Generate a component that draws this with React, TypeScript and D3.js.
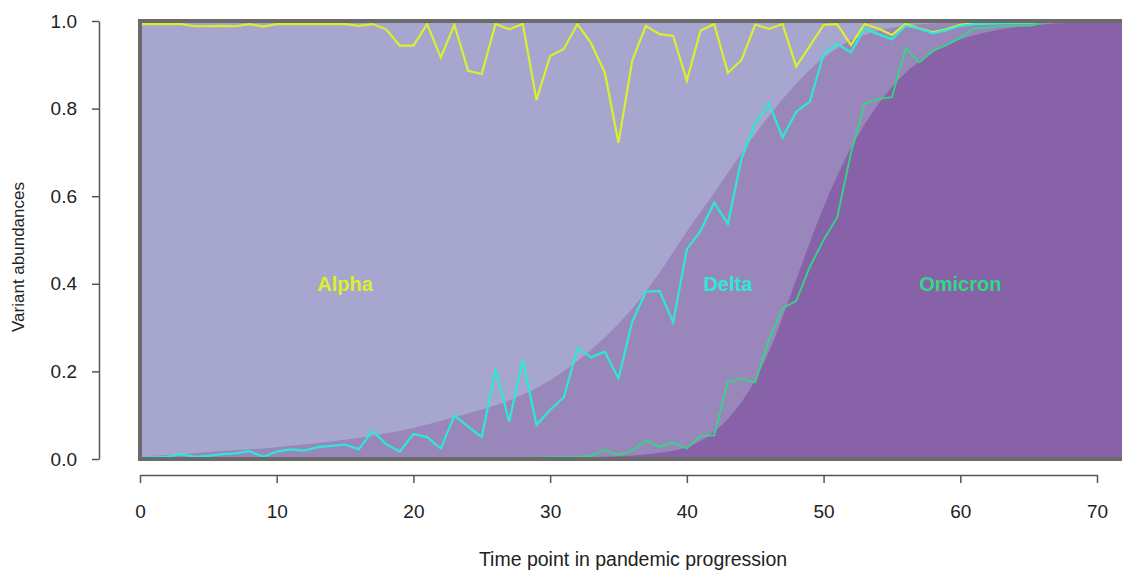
import React, { useEffect, useRef } from 'react'
import * as d3 from 'd3'

// observed abundances at time points 0..66
const alphaObs = [
  0.993, 0.993, 0.993, 0.993, 0.988, 0.988, 0.989, 0.988, 0.993, 0.987,
  0.993, 0.993, 0.993, 0.993, 0.993, 0.993, 0.989, 0.993, 0.981, 0.944,
  0.944, 0.993, 0.917, 0.991, 0.886, 0.879, 0.993, 0.981, 0.993, 0.82,
  0.92, 0.936, 0.993, 0.949, 0.882, 0.722, 0.909, 0.989, 0.97, 0.966,
  0.864, 0.978, 0.993, 0.882, 0.911, 0.992, 0.982, 0.993, 0.896, 0.943,
  0.991, 0.993, 0.945, 0.993, 0.983, 0.968, 0.993, 0.983, 0.974, 0.981,
  0.991, 0.995, 0.995, 0.996, 0.997, 0.997, 0.998,
]
const deltaObs = [
  0.004, 0.004, 0.005, 0.011, 0.005, 0.007, 0.011, 0.013, 0.018, 0.005,
  0.017, 0.022, 0.019, 0.027, 0.03, 0.033, 0.022, 0.064, 0.034, 0.017,
  0.057, 0.05, 0.024, 0.099, 0.074, 0.05, 0.205, 0.085, 0.226, 0.078,
  0.112, 0.141, 0.253, 0.232, 0.245, 0.184, 0.313, 0.382, 0.384, 0.312,
  0.479, 0.521, 0.585, 0.537, 0.686, 0.766, 0.812, 0.734, 0.793, 0.816,
  0.924, 0.948, 0.928, 0.983, 0.97, 0.958, 0.989, 0.983, 0.972, 0.979,
  0.989, 0.993, 0.994, 0.995, 0.996, 0.997, 0.998,
]
const omicronObs = [
  0, 0, 0, 0, 0, 0, 0, 0, 0.001, 0,
  0.001, 0, 0.001, 0.001, 0.001, 0.001, 0.001, 0.001, 0.001, 0.002,
  0.001, 0.002, 0.002, 0.002, 0.002, 0.002, 0.003, 0.002, 0.003, 0.003,
  0.004, 0.004, 0.004, 0.007, 0.021, 0.009, 0.019, 0.042, 0.028, 0.037,
  0.024, 0.053, 0.054, 0.177, 0.183, 0.175, 0.272, 0.344, 0.361, 0.439,
  0.5, 0.552, 0.698, 0.812, 0.822, 0.826, 0.938, 0.905, 0.932, 0.945,
  0.962, 0.983, 0.985, 0.989, 0.99, 0.989, 0.995,
]
const obsTimes = alphaObs.map((_, i) => i)

// fitted (smooth) cumulative curves
const fitTimes = [
  0, 2, 4, 6, 8, 10, 12, 14, 16, 18, 20, 22, 24, 26, 28, 30, 32, 34, 36,
  38, 40, 42, 44, 46, 48, 50, 52, 54, 56, 58, 60, 62, 64, 66, 68, 70, 72,
]
const deltaFit = [
  0.005, 0.009, 0.013, 0.018, 0.022, 0.027, 0.033, 0.04, 0.048, 0.058,
  0.071, 0.087, 0.104, 0.123, 0.147, 0.18, 0.224, 0.278, 0.343, 0.425,
  0.52, 0.608, 0.698, 0.783, 0.857, 0.916, 0.956, 0.978, 0.989, 0.995,
  0.997, 0.998, 0.999, 1, 1, 1, 1,
]
const omicronFit = [
  0, 0, 0, 0, 0, 0, 0, 0, 0, 0.001,
  0.001, 0.001, 0.001, 0.002, 0.002, 0.003, 0.004, 0.005, 0.008, 0.014,
  0.027, 0.062, 0.13, 0.245, 0.41, 0.575, 0.71, 0.81, 0.882, 0.928,
  0.958, 0.975, 0.986, 0.992, 0.996, 0.998, 0.999,
]

const xTicks = [0, 10, 20, 30, 40, 50, 60, 70]
const yTicks = [0, 0.2, 0.4, 0.6, 0.8, 1.0]
const variantNames = ['Alpha', 'Delta', 'Omicron']
const labelTimes = [15, 43, 60]
const labelLevel = 0.4

const W = 1122
const H = 571
const font = "'Liberation Sans', Arial, sans-serif"
const colors = { alpha: '#dbf02c', delta: '#2ee8d6', omicron: '#30d884' }
const fills = { alpha: '#a6a6ce', delta: '#9987bc', omicron: '#8862a8' }

export default function App() {
  const xAxisRef = useRef(null)
  const yAxisRef = useRef(null)

  const x = d3.scaleLinear().domain([0, 70]).range([140, 1097])
  const y = d3.scaleLinear().domain([0, 1]).range([459, 21])

  useEffect(() => {
    const xa = d3.select(xAxisRef.current)
    xa.call(d3.axisBottom(x).tickValues(xTicks).tickSize(8).tickSizeOuter(0).tickPadding(22))
    const ya = d3.select(yAxisRef.current)
    ya.call(
      d3.axisLeft(y).tickValues(yTicks).tickSize(7).tickSizeOuter(0).tickPadding(15)
        .tickFormat(d3.format('.1f'))
    )
    for (const g of [xa, ya]) {
      g.selectAll('path, line').attr('stroke', '#555').attr('stroke-width', 1.5)
      g.selectAll('text').attr('fill', '#222').style('font-family', font).style('font-size', '19px')
    }
  }, [])

  const area = (vals) =>
    d3.area()
      .x((d, i) => x(fitTimes[i]))
      .y0(y(0))
      .y1((d) => y(Math.min(d, 1)))
      .curve(d3.curveCatmullRom)(vals)

  const line = (vals) =>
    d3.line()
      .x((d, i) => x(obsTimes[i]))
      .y((d) => y(d))(vals)

  const boxLeft = x(0)
  const boxRight = x(72)

  return (
    <div style={{ position: 'absolute', left: 0, top: 0 }}>
      <svg width={W} height={H} style={{ display: 'block', background: '#fff' }}>
        <rect x={boxLeft} y={y(1)} width={boxRight - boxLeft} height={y(0) - y(1)} fill={fills.alpha} />
        <path d={area(deltaFit)} fill={fills.delta} />
        <path d={area(omicronFit)} fill={fills.omicron} />

        <path d={line(alphaObs)} fill="none" stroke={colors.alpha} strokeWidth={2.2} />
        <path d={line(deltaObs)} fill="none" stroke={colors.delta} strokeWidth={2.2} />
        <path d={line(omicronObs)} fill="none" stroke={colors.omicron} strokeWidth={1.8} />

        <rect x={boxLeft} y={y(1)} width={boxRight - boxLeft} height={y(0) - y(1)}
          fill="none" stroke="#6b6b6b" strokeWidth={4} />

        {variantNames.map((name, i) => (
          <text key={name} x={x(labelTimes[i])} y={y(labelLevel)} textAnchor="middle"
            dominantBaseline="central" fontFamily={font} fontWeight="bold" fontSize={20}
            fill={[colors.alpha, colors.delta, colors.omicron][i]}>
            {name}
          </text>
        ))}

        <g ref={xAxisRef} transform="translate(0,475)" />
        <g ref={yAxisRef} transform="translate(99,0)" />

        <text x={633} y={566} textAnchor="middle" fontFamily={font}
          fontSize={19.5} fill="#222">Time point in pandemic progression</text>
        <text transform="translate(24,257) rotate(-90)" textAnchor="middle"
          fontFamily={font} fontSize={17} fill="#222">Variant abundances</text>
      </svg>
    </div>
  )
}
